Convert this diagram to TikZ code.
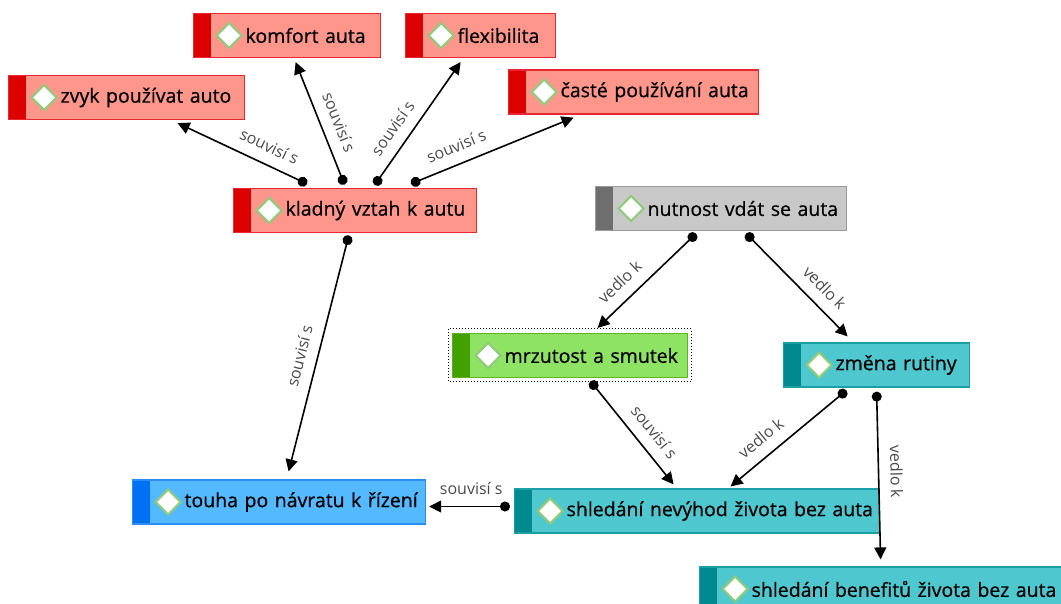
\documentclass[tikz,border=0pt]{standalone}
\usepackage{fontspec}
\setmainfont{Open Sans}
\newfontfamily\conceptfont{Open Sans}[FakeBold=0.6]
\usetikzlibrary{calc, positioning}
\usetikzlibrary{arrows.meta}

\definecolor{redfill}{HTML}{FF968C}
\definecolor{redstrip}{HTML}{DD0000}
\definecolor{redline}{HTML}{E82830}
\definecolor{grayfill}{HTML}{C8C8C8}
\definecolor{graystrip}{HTML}{6E6E6E}
\definecolor{grayline}{HTML}{9A9A9A}
\definecolor{greenfill}{HTML}{8EE264}
\definecolor{greenstrip}{HTML}{44A000}
\definecolor{greenline}{HTML}{5CB420}
\definecolor{tealfill}{HTML}{4FC7CF}
\definecolor{tealstrip}{HTML}{008A90}
\definecolor{tealline}{HTML}{1C9EA6}
\definecolor{bluefill}{HTML}{55B9FF}
\definecolor{bluestrip}{HTML}{0070F5}
\definecolor{blueline}{HTML}{2A8CF5}
\definecolor{iconline}{HTML}{8FCB7A}
\definecolor{labeltext}{HTML}{4A4A4A}

\def\sw{17pt}
\def\bh{44pt}
\tikzset{
    concept/.style 2 args = {
        draw=#1line, fill=#1fill, line width=1.2pt, rectangle, anchor=west,
        minimum height=\bh, text width=#2, inner xsep=15pt, inner ysep=0pt,
        align=left, font=\conceptfont\fontsize{19.5}{22}\selectfont, text=black,
        execute at begin node={\leavevmode\hspace*{37pt}\hbox\bgroup},
        execute at end node={\egroup},
        path picture={
            \fill[#1strip] (path picture bounding box.north west) rectangle ([xshift=\sw]path picture bounding box.south west);
            \draw[iconline, fill=white, line width=2pt] ([xshift=\sw+6pt]path picture bounding box.west)
                -- ++(12.5pt,12.5pt) -- ++(12.5pt,-12.5pt) -- ++(-12.5pt,-12.5pt) -- cycle;
        }
    },
    link/.style = {
        line width=1.6pt, {Circle[length=10pt]}-{Triangle[width=12pt,length=12pt]}
    },
    linklabel/.style = {
        sloped, above=9pt, inner sep=2pt, text=labeltext, font=\fontsize{16}{18}\selectfont
    },
}

\begin{document}
\begin{tikzpicture}[x=1pt, y=-1pt]
        \useasboundingbox (0,0) rectangle (1061,603);

        % Place the blocks
        \node[concept={red}{157pt}] (komfort) at (193,35.5) {komfort auta};
        \node[concept={red}{120pt}] (flexibilita) at (405,35.5) {flexibilita};
        \node[concept={red}{206pt}] (zvyk) at (8,97.5) {zvyk používat auto};
        \node[concept={red}{220pt}] (caste) at (508,92) {časté používání auta};
        \node[concept={red}{213pt}] (kladny) at (233,210.5) {kladný vztah k autu};
        \node[concept={gray}{221pt}] (nutnost) at (595,208.5) {nutnost vdát se auta};
        \node[concept={green}{205pt}] (mrzutost) at (452,355.5) {mrzutost a smutek};
        \node[concept={teal}{156pt}] (zmena) at (783,365) {změna rutiny};
        \node[concept={blue}{263pt}] (touha) at (132,502) {touha po návratu k řízení};
        \node[concept={teal}{335pt}] (nevyhod) at (514,511) {shledání nevýhod života bez auta};
        \node[concept={teal}{360pt}] (benefit) at (699,589) {shledání benefitů života bez auta};

        % selection frame
        \draw[dotted, line width=1pt] ([shift={(-4pt,4pt)}]mrzutost.north west) rectangle ([shift={(3pt,-3pt)}]mrzutost.south east);

        % Draw connections
        \draw[link] ([xshift=-48pt, yshift=4pt]kladny.north) -- node[linklabel, pos=0.35]{souvisí s} ([xshift=51pt, yshift=-3pt]zvyk.south);
        \draw[link] ([xshift=-10.6pt, yshift=3.4pt]kladny.north) -- node[linklabel, pos=0.45]{souvisí s} ([xshift=8.5pt, yshift=-4pt]komfort.south);
        \draw[link] ([xshift=19.6pt, yshift=2.9pt]kladny.north) -- node[linklabel, pos=0.38]{souvisí s} ([xshift=-20pt, yshift=-4pt]flexibilita.south);
        \draw[link] ([xshift=55.9pt, yshift=4.1pt]kladny.north) -- node[linklabel, pos=0.32]{souvisí s} ([xshift=-60pt, yshift=-3pt]caste.south);
        \draw[link] ([xshift=-6.3pt, yshift=-2.2pt]kladny.south) -- node[linklabel, pos=0.53]{souvisí s} ([xshift=9.5pt, yshift=8pt]touha.north);
        \draw[link] ([xshift=-25pt, yshift=-2.5pt]nutnost.south) -- node[linklabel, pos=0.65]{vedlo k} ([xshift=27.5pt, yshift=5pt]mrzutost.north);
        \draw[link] ([xshift=25pt, yshift=-2.4pt]nutnost.south) -- node[linklabel, pos=0.65]{vedlo k} ([xshift=-29pt, yshift=6pt]zmena.north);
        \draw[link] ([xshift=20.4pt, yshift=-3.1pt]mrzutost.south) -- node[linklabel, pos=0.6]{souvisí s} ([xshift=-23.5pt, yshift=4pt]nevyhod.north);
        \draw[link] ([xshift=-30.2pt, yshift=-2.8pt]zmena.south) -- node[linklabel, pos=0.64]{vedlo k} ([xshift=33.5pt, yshift=2pt]nevyhod.north);
        \draw[link] ([yshift=-4pt]zmena.south) -- node[linklabel, pos=0.48]{vedlo k} ([xshift=-14pt, yshift=7pt]benefit.north);
        \draw[link] ([xshift=-4pt, yshift=4.5pt]nevyhod.west) -- node[linklabel, pos=0.48]{souvisí s} ([xshift=3pt, yshift=-4.5pt]touha.east);
\end{tikzpicture}
\end{document}
